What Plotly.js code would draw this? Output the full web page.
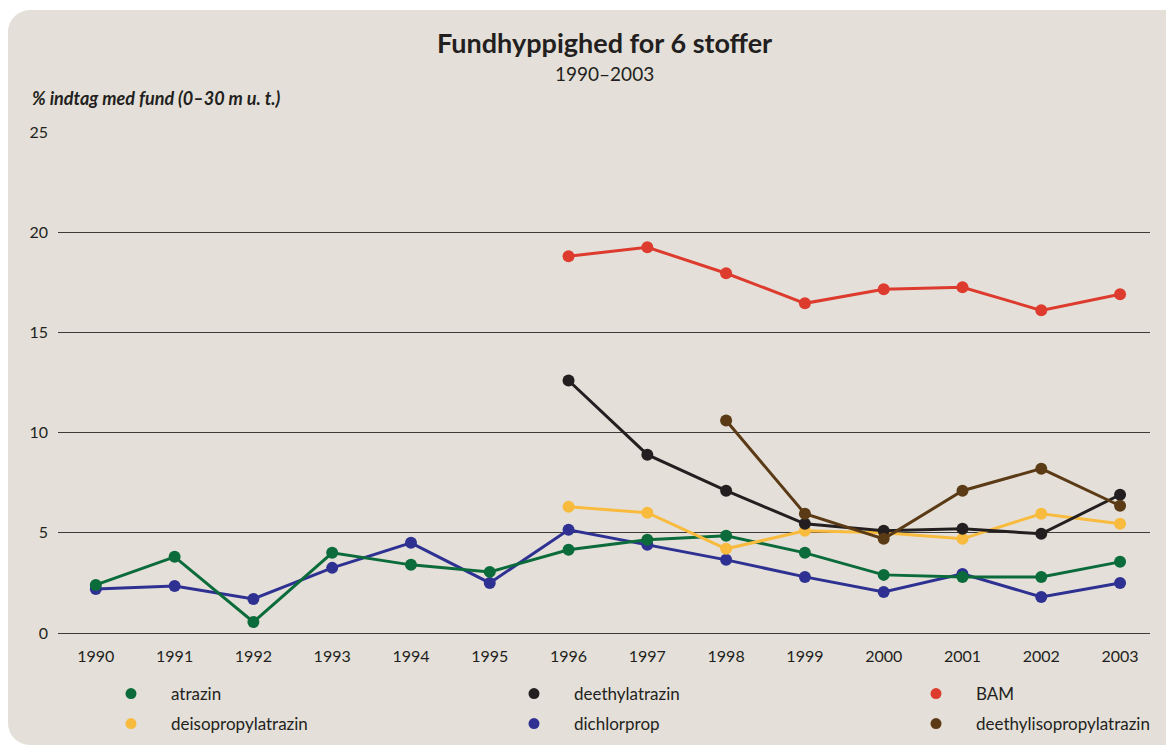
<!DOCTYPE html>
<html>
<head>
<meta charset="utf-8">
<script src="https://cdn.plot.ly/plotly-3.0.1.min.js"></script>
<style>
  body { margin: 0; background: #ffffff; overflow: hidden; }
  #panel { position: absolute; left: 8px; top: 10px; width: 1190px; height: 735px;
           background: #e4e0d9; border-radius: 22px; }
  #plot { position: absolute; left: 0; top: 0; width: 1166px; height: 749px; }
</style>
</head>
<body>
<div id="panel"></div>
<div id="plot"></div>
<script>
// years on the x axis
var years = [1990, 1991, 1992, 1993, 1994, 1995, 1996, 1997, 1998, 1999, 2000, 2001, 2002, 2003];
var yearsLate = [1996, 1997, 1998, 1999, 2000, 2001, 2002, 2003];
var yearsBrown = [1998, 1999, 2000, 2001, 2002, 2003];

// % indtag med fund
var atrazin = [2.4, 3.8, 0.55, 4.0, 3.4, 3.05, 4.15, 4.65, 4.85, 4.0, 2.9, 2.8, 2.8, 3.55];
var dichlorprop = [2.2, 2.35, 1.7, 3.25, 4.5, 2.5, 5.15, 4.4, 3.65, 2.8, 2.05, 2.95, 1.8, 2.5];
var bam = [18.8, 19.25, 17.95, 16.45, 17.15, 17.25, 16.1, 16.9];
var deethylatrazin = [12.6, 8.9, 7.1, 5.45, 5.1, 5.2, 4.95, 6.9];
var deisopropylatrazin = [6.3, 6.0, 4.2, 5.1, 5.0, 4.7, 5.95, 5.45];
var deethylisopropylatrazin = [10.6, 5.95, 4.7, 7.1, 8.2, 6.35];

var yTicks = [0, 5, 10, 15, 20, 25];

var font = 'Lato, "Open Sans", sans-serif';

// plot area in page pixels
var L = 58, R = 1150, T = 132, B = 633;
function px(x) { return (x - L) / (R - L); }
function py(y) { return (B - y) / (B - T); }

function series(name, x, y, color) {
    return {
        type: 'scatter', mode: 'lines+markers', name: name,
        x: x, y: y,
        line: { color: color, width: 3 },
        marker: { color: color, size: 12 },
        showlegend: false
    };
}

// legend-only entries: a dot, no line
function legendEntry(name, color, legend) {
    return {
        type: 'scatter', mode: 'markers', name: name,
        x: [null], y: [null],
        marker: { color: color, size: 11 },
        legend: legend, showlegend: true
    };
}

var data = [
    series('dichlorprop', years, dichlorprop, '#2e3192'),
    series('atrazin', years, atrazin, '#0b6b3a'),
    series('deisopropylatrazin', yearsLate, deisopropylatrazin, '#f8bb3d'),
    series('deethylatrazin', yearsLate, deethylatrazin, '#231f20'),
    series('deethylisopropylatrazin', yearsBrown, deethylisopropylatrazin, '#5b3a16'),
    series('BAM', yearsLate, bam, '#de3b2f'),

    legendEntry('atrazin', '#0b6b3a', 'legend'),
    legendEntry('deethylatrazin', '#231f20', 'legend2'),
    legendEntry('BAM', '#de3b2f', 'legend3'),
    legendEntry('deisopropylatrazin', '#f8bb3d', 'legend4'),
    legendEntry('dichlorprop', '#2e3192', 'legend5'),
    legendEntry('deethylisopropylatrazin', '#5b3a16', 'legend6')
];

function legendAt(x, y) {
    return {
        orientation: 'h', xref: 'container', yref: 'container',
        x: x / 1166, y: 1 - y / 749, xanchor: 'left', yanchor: 'middle',
        itemwidth: 70,
        bgcolor: 'rgba(0,0,0,0)',
        font: { family: font, size: 17, color: '#231f20' },
        itemclick: false
    };
}

var layout = {
    width: 1166, height: 749,
    paper_bgcolor: 'rgba(0,0,0,0)',
    plot_bgcolor: 'rgba(0,0,0,0)',
    margin: { l: L, r: 1166 - R, t: T, b: 749 - B },
    font: { family: font, size: 16, color: '#231f20' },
    xaxis: {
        type: 'linear',
        range: [1989.52, 2003.38],
        tickvals: years,
        ticktext: years.map(String),
        showgrid: false, zeroline: false,
        showline: false, ticks: '',
        ticklabelstandoff: 12,
        tickfont: { family: font, size: 16, color: '#231f20' }
    },
    yaxis: {
        range: [0, 25],
        tickvals: yTicks,
        showgrid: true, gridcolor: '#3d3a38', gridwidth: 1,
        zeroline: true, zerolinecolor: '#3d3a38', zerolinewidth: 1,
        showline: false, ticks: '',
        ticklabelstandoff: 9,
        tickfont: { family: font, size: 16, color: '#231f20' }
    },
    legend: legendAt(91, 694),
    legend2: legendAt(494, 694),
    legend3: legendAt(896, 694),
    legend4: legendAt(91, 724),
    legend5: legendAt(494, 724),
    legend6: legendAt(896, 724),
    annotations: [
        {
            text: '<b>Fundhyppighed for 6 stoffer</b>',
            xref: 'paper', yref: 'paper', x: 0.5, y: py(43),
            xanchor: 'center', yanchor: 'middle', showarrow: false,
            font: { family: font, size: 27, color: '#231f20' }
        },
        {
            text: '1990–2003',
            xref: 'paper', yref: 'paper', x: 0.5, y: py(73),
            xanchor: 'center', yanchor: 'middle', showarrow: false,
            font: { family: font, size: 19, color: '#231f20' }
        },
        {
            text: '<b><i>% indtag med fund (0–30 m u. t.)</i></b>',
            xref: 'paper', yref: 'paper', x: px(30), y: py(98),
            xanchor: 'left', yanchor: 'middle', showarrow: false,
            font: { family: font, size: 18, color: '#231f20' }
        }
    ]
};

Plotly.newPlot('plot', data, layout, { staticPlot: true });
</script>
</body>
</html>
